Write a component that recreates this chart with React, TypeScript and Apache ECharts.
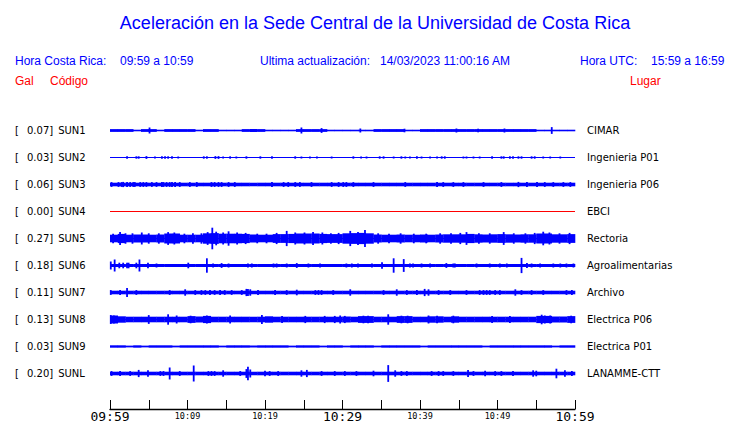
import React, { useEffect, useRef } from "react";
import * as echarts from "echarts";

// ---- Data ----
const traceCodes = ["SUN1", "SUN2", "SUN3", "SUN4", "SUN5", "SUN6", "SUN7", "SUN8", "SUN9", "SUNL"];
const traceGal = ["0.07", "0.03", "0.06", "0.00", "0.27", "0.18", "0.11", "0.13", "0.03", "0.20"];
const tracePlaces = [
  "CIMAR", "Ingenieria P01", "Ingenieria P06", "EBCI", "Rectoria",
  "Agroalimentarias", "Archivo", "Electrica P06", "Electrica P01", "LANAMME-CTT",
];
const tickLabels = ["09:59", "10:09", "10:19", "10:29", "10:39", "10:49", "10:59"];
const majorTickLabels = ["09:59", "10:29", "10:59"];

// Envelope half-amplitude (gal) for each minute, 09:59 -> 10:59
const sun1Base = [
  0.035, 0.035, 0.035, 0.02, 0.035, 0.035, 0.02, 0.035, 0.035, 0.035,
  0.035, 0.02, 0.035, 0.035, 0.02, 0.02, 0.02, 0.035, 0.035, 0.035,
  0.02, 0.02, 0.02, 0.02, 0.035, 0.035, 0.035, 0.035, 0.02, 0.02,
  0.02, 0.02, 0.02, 0.02, 0.035, 0.035, 0.035, 0.035, 0.02, 0.02,
  0.035, 0.035, 0.035, 0.035, 0.035, 0.035, 0.035, 0.035, 0.035, 0.035,
  0.035, 0.035, 0.035, 0.035, 0.035, 0.02, 0.02, 0.02, 0.02, 0.02,
];
const sun2Base: number[] = [];
const sun3Base = [
  0.045, 0.045, 0.045, 0.045, 0.045, 0.045, 0.045, 0.045, 0.045, 0.045,
  0.045, 0.045, 0.045, 0.045, 0.045, 0.045, 0.045, 0.045, 0.045, 0.045,
  0.045, 0.045, 0.045, 0.045, 0.045, 0.045, 0.045, 0.045, 0.045, 0.045,
  0.045, 0.045, 0.045, 0.045, 0.045, 0.045, 0.045, 0.045, 0.045, 0.045,
  0.045, 0.045, 0.045, 0.045, 0.045, 0.045, 0.045, 0.045, 0.045, 0.045,
  0.045, 0.045, 0.045, 0.045, 0.045, 0.045, 0.045, 0.045, 0.045, 0.045,
];
const sun4Base: number[] = [];
const sun5Base = [
  0.095, 0.115, 0.095, 0.1, 0.1, 0.095, 0.1, 0.125, 0.125, 0.095,
  0.095, 0.095, 0.13, 0.135, 0.12, 0.12, 0.12, 0.115, 0.1, 0.095,
  0.095, 0.11, 0.11, 0.115, 0.125, 0.125, 0.125, 0.115, 0.11, 0.11,
  0.13, 0.135, 0.14, 0.13, 0.1, 0.095, 0.095, 0.1, 0.095, 0.095,
  0.1, 0.095, 0.1, 0.105, 0.105, 0.105, 0.115, 0.105, 0.1, 0.105,
  0.11, 0.105, 0.1, 0.105, 0.105, 0.125, 0.125, 0.105, 0.105, 0.11,
];
const sun6Base = [
  0.038, 0.038, 0.038, 0.038, 0.038, 0.038, 0.038, 0.038, 0.038, 0.038,
  0.038, 0.038, 0.038, 0.038, 0.038, 0.038, 0.038, 0.038, 0.038, 0.038,
  0.038, 0.038, 0.038, 0.038, 0.038, 0.038, 0.038, 0.038, 0.038, 0.038,
  0.038, 0.038, 0.038, 0.038, 0.038, 0.038, 0.038, 0.038, 0.038, 0.038,
  0.038, 0.038, 0.038, 0.038, 0.038, 0.038, 0.038, 0.038, 0.038, 0.038,
  0.038, 0.038, 0.038, 0.038, 0.038, 0.038, 0.038, 0.038, 0.038, 0.038,
];
const sun7Base = [
  0.045, 0.045, 0.045, 0.045, 0.045, 0.045, 0.045, 0.045, 0.045, 0.045,
  0.045, 0.045, 0.045, 0.045, 0.045, 0.045, 0.045, 0.045, 0.045, 0.045,
  0.045, 0.045, 0.045, 0.045, 0.045, 0.045, 0.045, 0.045, 0.045, 0.045,
  0.045, 0.045, 0.045, 0.045, 0.045, 0.045, 0.045, 0.045, 0.045, 0.045,
  0.045, 0.045, 0.045, 0.045, 0.045, 0.045, 0.045, 0.045, 0.045, 0.045,
  0.045, 0.045, 0.045, 0.045, 0.045, 0.045, 0.045, 0.045, 0.045, 0.045,
];
const sun8Base = [
  0.1, 0.08, 0.07, 0.07, 0.07, 0.07, 0.07, 0.07, 0.07, 0.07,
  0.085, 0.075, 0.09, 0.07, 0.07, 0.07, 0.07, 0.07, 0.07, 0.07,
  0.08, 0.07, 0.07, 0.07, 0.07, 0.07, 0.07, 0.07, 0.07, 0.07,
  0.075, 0.07, 0.085, 0.085, 0.07, 0.07, 0.07, 0.085, 0.085, 0.07,
  0.07, 0.08, 0.08, 0.07, 0.08, 0.07, 0.07, 0.07, 0.07, 0.07,
  0.07, 0.07, 0.07, 0.07, 0.07, 0.09, 0.09, 0.075, 0.075, 0.085,
];
const sun9Base = [
  0.03, 0.03, 0.022, 0.03, 0.022, 0.03, 0.03, 0.03, 0.022, 0.03,
  0.03, 0.03, 0.03, 0.03, 0.022, 0.03, 0.03, 0.03, 0.022, 0.03,
  0.03, 0.03, 0.03, 0.022, 0.03, 0.03, 0.03, 0.022, 0.03, 0.03,
  0.022, 0.03, 0.03, 0.03, 0.022, 0.03, 0.03, 0.03, 0.03, 0.03,
  0.022, 0.03, 0.03, 0.03, 0.03, 0.03, 0.03, 0.03, 0.022, 0.03,
  0.03, 0.03, 0.03, 0.03, 0.03, 0.03, 0.03, 0.022, 0.03, 0.03,
];
const sunLBase = [
  0.045, 0.045, 0.045, 0.045, 0.045, 0.045, 0.045, 0.045, 0.045, 0.045,
  0.045, 0.045, 0.045, 0.045, 0.045, 0.045, 0.045, 0.045, 0.045, 0.045,
  0.045, 0.045, 0.045, 0.045, 0.045, 0.045, 0.045, 0.045, 0.045, 0.045,
  0.045, 0.045, 0.045, 0.045, 0.045, 0.045, 0.045, 0.045, 0.045, 0.045,
  0.045, 0.045, 0.045, 0.045, 0.045, 0.045, 0.045, 0.045, 0.045, 0.045,
  0.045, 0.045, 0.045, 0.045, 0.045, 0.045, 0.045, 0.045, 0.045, 0.045,
];

// Spikes: [minute after 09:59, peak half-amplitude in gal]
const sun1Spikes = [
  [5.1, 0.075], [24.7, 0.075], [27.3, 0.06], [32.3, 0.05], [38.0, 0.045],
  [44.7, 0.05], [47.5, 0.045], [50.9, 0.05], [57.0, 0.085],
];
const sun2Spikes = [
  [2.2, 0.03], [3.4, 0.03], [3.7, 0.03], [4.7, 0.035], [5.8, 0.025], [6.7, 0.03],
  [7.1, 0.03], [7.5, 0.03], [8.0, 0.03], [8.8, 0.025], [12.1, 0.03], [12.5, 0.03],
  [13.6, 0.035], [14.0, 0.035], [14.6, 0.025], [15.5, 0.03], [16.3, 0.025], [17.6, 0.03],
  [19.4, 0.03], [20.9, 0.03], [23.9, 0.03], [24.7, 0.025], [25.8, 0.025], [26.7, 0.025],
  [28.6, 0.025], [31.4, 0.03], [32.4, 0.025], [33.1, 0.025], [34.8, 0.03], [35.3, 0.03],
  [36.6, 0.025], [37.6, 0.03], [38.1, 0.025], [38.7, 0.025], [39.6, 0.03], [40.2, 0.025],
  [41.3, 0.025], [42.2, 0.025], [42.8, 0.03], [43.2, 0.03], [45.6, 0.025], [46.0, 0.025],
  [46.9, 0.025], [47.7, 0.025], [49.3, 0.03], [50.5, 0.03], [50.8, 0.03], [51.6, 0.03],
  [52.0, 0.03], [52.7, 0.03], [53.1, 0.03], [54.4, 0.03], [54.8, 0.03], [55.9, 0.025],
  [56.8, 0.025], [58.1, 0.025],
];
const sun3Spikes = [
  [0.2, 0.06], [1.1, 0.06], [1.5, 0.06], [1.7, 0.065], [2.2, 0.06], [2.6, 0.06], [3.0, 0.06],
  [3.2, 0.06], [3.9, 0.06], [4.3, 0.06], [4.7, 0.06], [5.4, 0.06], [6.0, 0.06], [6.7, 0.06],
  [6.9, 0.06], [7.3, 0.06], [7.7, 0.06], [8.0, 0.06], [8.4, 0.06], [9.0, 0.06], [10.3, 0.06],
  [11.2, 0.06], [13.1, 0.06], [13.5, 0.06], [14.0, 0.06], [14.4, 0.06], [15.3, 0.06],
  [16.1, 0.06], [20.9, 0.06], [22.4, 0.06], [23.0, 0.06], [23.9, 0.06], [24.5, 0.06],
  [26.0, 0.06], [28.6, 0.06], [29.5, 0.06], [30.1, 0.06], [30.5, 0.06], [31.4, 0.06],
  [34.0, 0.06], [38.1, 0.06], [42.2, 0.06], [43.0, 0.06], [44.3, 0.06], [45.6, 0.06],
  [48.2, 0.06], [50.5, 0.06], [52.7, 0.065], [53.8, 0.06], [55.1, 0.06], [56.1, 0.06],
  [57.2, 0.06], [58.5, 0.06], [59.4, 0.06],
];
const sun4Spikes: number[][] = [];
const sun5Spikes = [
  [0.4, 0.12], [1.3, 0.16], [2.0, 0.13], [2.9, 0.13], [4.1, 0.15], [5.0, 0.13], [6.3, 0.13],
  [7.5, 0.16], [8.3, 0.15], [9.6, 0.12], [10.7, 0.13], [11.8, 0.13], [12.6, 0.16],
  [13.2, 0.27], [13.7, 0.17], [14.6, 0.15], [15.3, 0.18], [16.4, 0.15], [17.5, 0.14],
  [19.0, 0.12], [20.2, 0.12], [21.5, 0.14], [22.8, 0.19], [23.9, 0.15], [25.1, 0.15],
  [26.2, 0.16], [27.4, 0.15], [28.5, 0.13], [29.5, 0.14], [31.0, 0.19], [32.0, 0.16],
  [32.9, 0.21], [34.6, 0.13], [36.0, 0.12], [37.5, 0.13], [39.2, 0.12], [40.8, 0.12],
  [42.6, 0.13], [44.0, 0.13], [45.2, 0.14], [46.0, 0.16], [47.6, 0.13], [49.0, 0.13],
  [50.8, 0.16], [52.1, 0.13], [53.6, 0.13], [54.8, 0.14], [55.9, 0.17], [56.7, 0.15],
  [58.0, 0.13], [59.3, 0.14],
];
const sun6Spikes = [
  [0.1, 0.1], [0.6, 0.15], [1.2, 0.07], [1.7, 0.07], [2.2, 0.07], [2.4, 0.07], [3.4, 0.07],
  [3.8, 0.15], [4.9, 0.07], [6.0, 0.05], [10.1, 0.07], [12.5, 0.18], [13.3, 0.05],
  [14.4, 0.06], [15.3, 0.05], [17.8, 0.05], [18.3, 0.05], [21.1, 0.05], [21.5, 0.05],
  [22.8, 0.05], [24.1, 0.06], [25.6, 0.05], [27.1, 0.05], [30.5, 0.05], [31.2, 0.05],
  [32.0, 0.05], [33.8, 0.05], [35.1, 0.08], [36.6, 0.18], [37.9, 0.16], [38.7, 0.05],
  [39.1, 0.05], [40.2, 0.05], [41.3, 0.05], [43.4, 0.06], [44.3, 0.05], [44.5, 0.05],
  [47.3, 0.05], [49.0, 0.05], [50.3, 0.05], [51.2, 0.05], [53.1, 0.19], [53.8, 0.06],
  [54.4, 0.05], [55.5, 0.05], [57.2, 0.05], [58.1, 0.05], [58.9, 0.05], [59.8, 0.05],
];
const sun7Spikes = [
  [0.1, 0.06], [1.3, 0.06], [2.2, 0.11], [3.4, 0.06], [7.7, 0.06], [9.7, 0.08], [11.0, 0.06],
  [11.8, 0.06], [12.3, 0.06], [12.9, 0.06], [13.5, 0.06], [14.2, 0.06], [14.8, 0.06],
  [15.7, 0.06], [17.0, 0.06], [17.6, 0.09], [17.8, 0.09], [18.1, 0.08], [19.1, 0.06],
  [21.3, 0.06], [22.8, 0.06], [24.1, 0.07], [26.5, 0.06], [26.9, 0.06], [27.3, 0.06],
  [28.8, 0.06], [31.0, 0.08], [35.3, 0.06], [37.0, 0.08], [38.3, 0.06], [39.6, 0.06],
  [40.6, 0.09], [41.1, 0.08], [42.4, 0.06], [43.9, 0.06], [46.0, 0.06], [47.7, 0.06],
  [48.2, 0.06], [48.6, 0.06], [49.0, 0.06], [49.7, 0.06], [50.3, 0.06], [52.3, 0.08],
  [53.1, 0.06], [54.4, 0.06], [55.9, 0.06], [58.9, 0.06], [59.6, 0.06],
];
const sun8Spikes = [
  [0.1, 0.11], [0.5, 0.1], [5.0, 0.11], [7.5, 0.13], [8.6, 0.1], [10.4, 0.095], [12.5, 0.1],
  [15.5, 0.1], [19.6, 0.11], [22.2, 0.09], [25.2, 0.09], [27.7, 0.09], [29.0, 0.09],
  [29.7, 0.1], [30.3, 0.09], [32.7, 0.095], [33.3, 0.095], [35.9, 0.13], [37.6, 0.095],
  [38.4, 0.095], [41.1, 0.1], [42.2, 0.095], [44.3, 0.095], [49.3, 0.09], [51.6, 0.09],
  [55.7, 0.12], [56.1, 0.1], [56.8, 0.1], [59.5, 0.095],
];
const sun9Spikes: number[][] = [];
const sunLSpikes = [
  [0.2, 0.06], [1.3, 0.06], [2.6, 0.06], [3.7, 0.09], [4.9, 0.08], [6.5, 0.06], [6.9, 0.06],
  [7.7, 0.15], [9.0, 0.06], [10.8, 0.2], [12.7, 0.06], [13.1, 0.06], [13.5, 0.06],
  [14.6, 0.08], [16.8, 0.06], [17.6, 0.11], [17.8, 0.17], [18.1, 0.1], [20.0, 0.07],
  [20.6, 0.06], [21.7, 0.06], [24.7, 0.08], [25.4, 0.09], [27.3, 0.06], [29.0, 0.06],
  [30.3, 0.06], [31.8, 0.06], [34.0, 0.07], [35.9, 0.21], [36.8, 0.08], [37.6, 0.06],
  [38.3, 0.06], [41.5, 0.06], [42.4, 0.06], [43.0, 0.06], [44.3, 0.06], [46.2, 0.09],
  [46.9, 0.06], [48.4, 0.07], [49.7, 0.06], [50.5, 0.06], [52.0, 0.06], [54.6, 0.08],
  [55.0, 0.07], [57.6, 0.12], [58.7, 0.08], [59.6, 0.06],
];

const traceBases = [sun1Base, sun2Base, sun3Base, sun4Base, sun5Base, sun6Base, sun7Base, sun8Base, sun9Base, sunLBase];
const traceSpikes = [sun1Spikes, sun2Spikes, sun3Spikes, sun4Spikes, sun5Spikes, sun6Spikes, sun7Spikes, sun8Spikes, sun9Spikes, sunLSpikes];

// ---- Layout / style ----
const BLUE = "#0000ff";
const RED = "#ff0000";
const SLOT = 0.675; // gal covered by one 27px trace row
const SPAN = 60; // minutes

export default function App() {
  const ref = useRef<HTMLDivElement>(null);

  useEffect(() => {
    if (!ref.current) return;
    const chart = echarts.init(ref.current, undefined, { renderer: "svg" });

    const bandData: number[][] = [];
    traceBases.forEach((b, k) => b.forEach((a, m) => bandData.push([m, a, k])));
    const spikeData: number[][] = [];
    traceSpikes.forEach((s, k) => s.forEach((p) => spikeData.push([p[0], p[1], k])));
    const lineData = traceCodes.map((_, k) => [0, 0, k]);

    const center = (k: number) => (k + 0.5) * SLOT;

    const option: any = {
      animation: false,
      backgroundColor: "#ffffff",
      grid: [
        { left: 110, right: 165, top: 117, height: 270, containLabel: false },
        { left: 110, right: 165, top: 400, height: 9, containLabel: false },
      ],
      xAxis: [
        { gridIndex: 0, type: "value", min: 0, max: SPAN, show: false },
        {
          gridIndex: 1,
          type: "value",
          min: 0,
          max: SPAN,
          interval: 5,
          splitLine: { show: false },
          axisLine: { show: true, lineStyle: { color: "#000", width: 1.3 } },
          axisTick: { show: true, inside: true, length: 9, lineStyle: { color: "#000", width: 1 } },
          axisLabel: {
            show: true,
            margin: 1,
            color: "#000",
            showMinLabel: true,
            showMaxLabel: true,
            formatter: (v: number) => {
              if (v % 10 !== 0) return "";
              const lab = tickLabels[v / 10];
              return majorTickLabels.includes(lab) ? `{big|${lab}}` : `{small|${lab}}`;
            },
            rich: {
              big: { fontFamily: "DejaVu Sans Mono", fontSize: 13, lineHeight: 13, color: "#000" },
              small: { fontFamily: "DejaVu Sans Mono", fontSize: 8.5, lineHeight: 12, color: "#000" },
            },
          },
        },
      ],
      yAxis: [
        { gridIndex: 0, type: "value", min: 0, max: SLOT * traceCodes.length, inverse: true, show: false },
        {
          gridIndex: 0,
          type: "category",
          position: "left",
          inverse: true,
          data: traceCodes,
          axisLine: { show: false },
          axisTick: { show: false },
          splitLine: { show: false },
          axisLabel: {
            align: "left",
            margin: 95,
            color: "#000",
            fontFamily: "DejaVu Sans",
            fontSize: 10,
            formatter: (v: string, i: number) => `{l|[}{v|${traceGal[i]}]}{c| ${v}}`,
            rich: {
              l: { width: 12, fontFamily: "DejaVu Sans", fontSize: 10, color: "#000" },
              v: { width: 28, fontFamily: "DejaVu Sans", fontSize: 10, color: "#000" },
              c: { fontFamily: "DejaVu Sans", fontSize: 10, color: "#000" },
            },
          },
        },
        {
          gridIndex: 0,
          type: "category",
          position: "right",
          inverse: true,
          data: tracePlaces,
          axisLine: { show: false },
          axisTick: { show: false },
          splitLine: { show: false },
          axisLabel: { margin: 12, color: "#000", fontFamily: "DejaVu Sans", fontSize: 10 },
        },
        { gridIndex: 1, type: "value", min: 0, max: 1, show: false },
      ],
      graphic: [
        {
          type: "text", x: 375, y: 23,
          style: { text: "Aceleración en la Sede Central de la Universidad de Costa Rica", fill: BLUE, font: "18px 'Liberation Sans'", align: "center", verticalAlign: "middle" },
        },
        { type: "text", x: 15, y: 61, style: { text: "Hora Costa Rica:", fill: BLUE, font: "12px 'Liberation Sans'", verticalAlign: "middle" } },
        { type: "text", x: 120, y: 61, style: { text: "09:59 a 10:59", fill: BLUE, font: "12px 'Liberation Sans'", verticalAlign: "middle" } },
        { type: "text", x: 260, y: 61, style: { text: "Ultima actualización:", fill: BLUE, font: "12px 'Liberation Sans'", verticalAlign: "middle" } },
        { type: "text", x: 380, y: 61, style: { text: "14/03/2023 11:00:16 AM", fill: BLUE, font: "12px 'Liberation Sans'", verticalAlign: "middle" } },
        { type: "text", x: 580, y: 61, style: { text: "Hora UTC:", fill: BLUE, font: "12px 'Liberation Sans'", verticalAlign: "middle" } },
        { type: "text", x: 651, y: 61, style: { text: "15:59 a 16:59", fill: BLUE, font: "12px 'Liberation Sans'", verticalAlign: "middle" } },
        { type: "text", x: 15, y: 80.5, style: { text: "Gal", fill: RED, font: "12px 'Liberation Sans'", verticalAlign: "middle" } },
        { type: "text", x: 50, y: 80.5, style: { text: "Código", fill: RED, font: "12px 'Liberation Sans'", verticalAlign: "middle" } },
        { type: "text", x: 630, y: 80.5, style: { text: "Lugar", fill: RED, font: "12px 'Liberation Sans'", verticalAlign: "middle" } },
      ],
      series: [
        {
          type: "custom",
          name: "base",
          xAxisIndex: 0,
          yAxisIndex: 0,
          clip: false,
          silent: true,
          encode: { x: 0, y: 1 },
          data: lineData,
          renderItem: (_p: any, api: any) => {
            const k = api.value(2);
            const c = center(k);
            const a = api.coord([0, c]);
            const b = api.coord([SPAN, c]);
            return {
              type: "line",
              shape: { x1: a[0], y1: a[1], x2: b[0], y2: b[1] },
              style: { stroke: traceGal[k] === "0.00" ? RED : BLUE, lineWidth: 1 },
            };
          },
        },
        {
          type: "custom",
          name: "band",
          xAxisIndex: 0,
          yAxisIndex: 0,
          clip: false,
          silent: true,
          encode: { x: 0, y: 1 },
          data: bandData,
          renderItem: (_p: any, api: any) => {
            const t = api.value(0);
            const amp = api.value(1);
            const c = center(api.value(2));
            const p1 = api.coord([t, c - amp]);
            const p2 = api.coord([t + 1, c + amp]);
            return {
              type: "rect",
              shape: { x: p1[0], y: Math.min(p1[1], p2[1]), width: p2[0] - p1[0] + 0.3, height: Math.abs(p2[1] - p1[1]) },
              style: { fill: BLUE },
            };
          },
        },
        {
          type: "custom",
          name: "spikes",
          xAxisIndex: 0,
          yAxisIndex: 0,
          clip: false,
          silent: true,
          encode: { x: 0, y: 1 },
          data: spikeData,
          renderItem: (_p: any, api: any) => {
            const t = api.value(0);
            const amp = api.value(1);
            const c = center(api.value(2));
            const p1 = api.coord([t, c - amp]);
            const p2 = api.coord([t, c + amp]);
            return {
              type: "rect",
              shape: { x: p1[0] - 0.9, y: Math.min(p1[1], p2[1]), width: 1.8, height: Math.abs(p2[1] - p1[1]) },
              style: { fill: BLUE },
            };
          },
        },
      ],
    };

    chart.setOption(option);
    return () => chart.dispose();
  }, []);

  return (
    <div
      ref={ref}
      style={{ position: "absolute", left: 0, top: 0, width: 740, height: 423, background: "#fff" }}
    />
  );
}
